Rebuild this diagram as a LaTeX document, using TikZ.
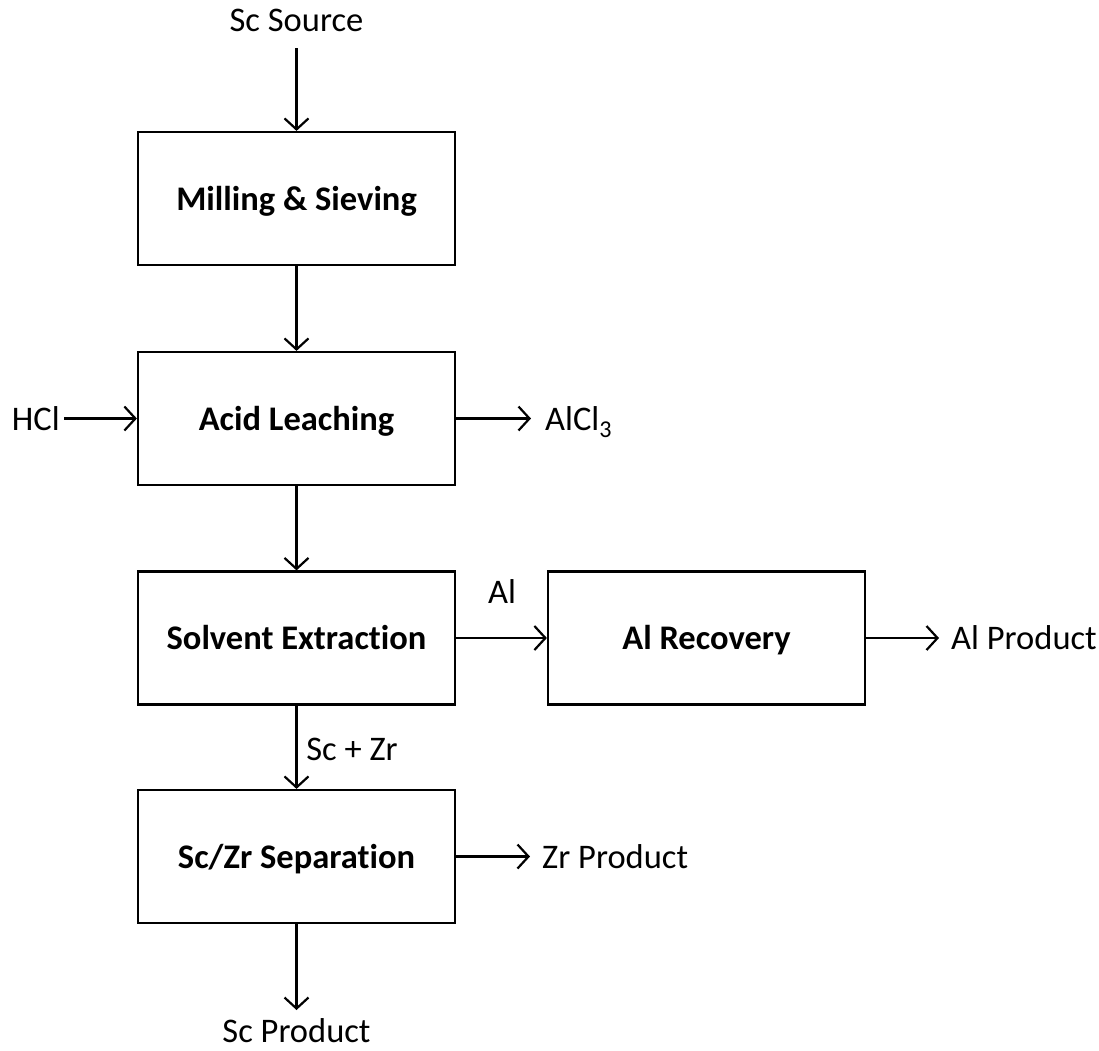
\documentclass[tikz,border=0pt]{standalone}
\usepackage{fontspec}
\setmainfont{Carlito}[Ligatures=NoCommon]
\usetikzlibrary{arrows.meta}
\begin{document}
\begin{tikzpicture}[x=1pt,y=-1pt,
  box/.style={draw, line width=2.2pt, minimum width=317pt, minimum height=133pt, inner sep=0pt,
    text height=23pt, text depth=0pt,
    font=\fontsize{34.5}{40}\selectfont\bfseries},
  lbl/.style={font=\fontsize{34.5}{40}\selectfont, text height=23pt, text depth=0pt, inner sep=0pt},
  arr/.style={line width=2.2pt, -{Straight Barb[length=11pt,width=24pt,line width=2.2pt]}}]
\useasboundingbox (0,0) rectangle (1099,1050);
\node[box] (mill) at (296.5,198.5) {Milling \& Sieving};
\node[box] (leach) at (296.5,418.5) {Acid Leaching};
\node[box] (solv) at (296.5,638) {Solvent Extraction};
\node[box] (alrec) at (706.5,638) {Al Recovery};
\node[box] (sep) at (296.5,856.5) {Sc/Zr Separation};

\node[lbl, anchor=south, inner ysep=16pt] (src) at (296.5,48) {Sc Source};
\node[lbl, anchor=east, inner xsep=4pt] (hcl) at (64,418.5) {HCl};
\node[lbl, anchor=west, inner xsep=14pt] (alcl) at (531,418.5) {AlCl\textsubscript{3}};
\node[lbl, anchor=west, inner xsep=12pt] (alprod) at (939,638) {Al Product};
\node[lbl, anchor=west, inner xsep=12pt] (zrprod) at (530,856.5) {Zr Product};
\node[lbl, anchor=north, inner ysep=9pt] (scprod) at (296.5,1010) {Sc Product};
\node[lbl, anchor=base] (scl) at (352,760) {Sc + Zr};
\node[lbl, anchor=base] (all) at (502,603) {Al};

\draw[arr] (src) -- (mill);
\draw[arr] (mill) -- (leach);
\draw[arr] (hcl) -- (leach);
\draw[arr] (leach) -- (alcl);
\draw[arr] (leach) -- (solv);
\draw[arr] (solv) -- (alrec);
\draw[arr] (alrec) -- (alprod);
\draw[arr] (solv) -- (sep);
\draw[arr] (sep) -- (zrprod);
\draw[arr] (sep) -- (scprod);
\end{tikzpicture}
\end{document}
